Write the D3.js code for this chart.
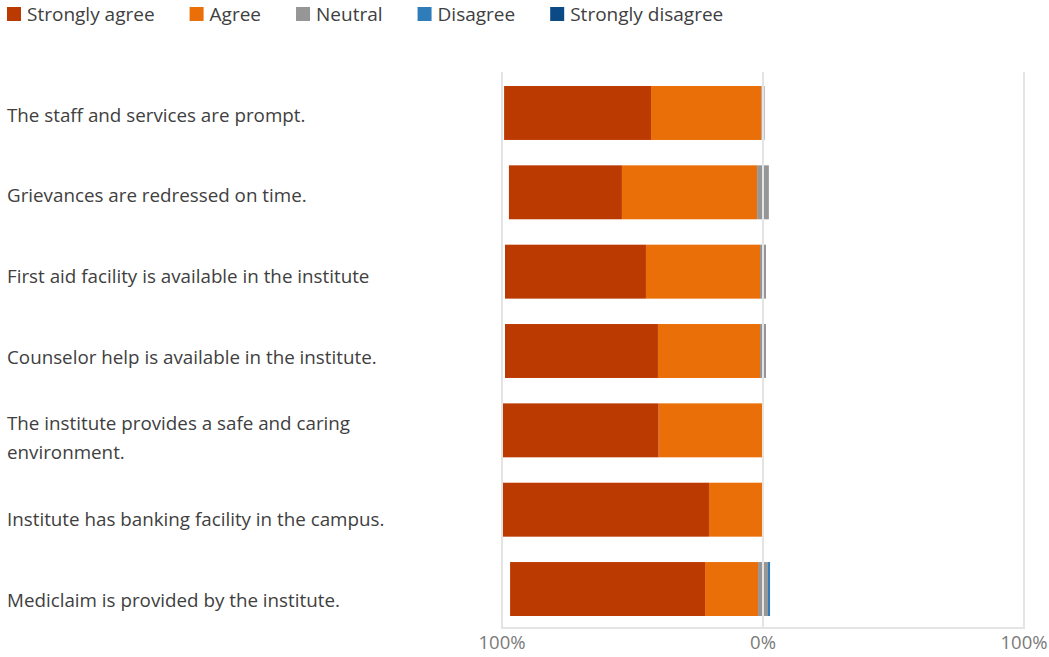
<!DOCTYPE html>
<html>
<head>
<meta charset="utf-8">
<script src="https://cdn.jsdelivr.net/npm/d3@7"></script>
<style>
  body { margin: 0; background: #fff; }
  svg { display: block; font-family: "Open Sans", "Noto Sans", sans-serif; }
</style>
</head>
<body>
<div id="chart"></div>
<script>
var categories = [
  'The staff and services are prompt.',
  'Grievances are redressed on time.',
  'First aid facility is available in the institute',
  'Counselor help is available in the institute.',
  'The institute provides a safe and caring environment.',
  'Institute has banking facility in the campus.',
  'Mediclaim is provided by the institute.'
]

// percent of responses
var stronglyAgree    = [56.3, 43.3, 54.0, 58.6, 60.0, 79.3, 74.7]
var agree            = [42.3, 51.8, 43.7, 39.1, 40.0, 20.7, 20.3]
var neutral          = [1.2, 4.5, 2.3, 2.3, 0, 0, 3.8]
var disagree         = [0, 0, 0, 0, 0, 0, 0.8]
var stronglyDisagree = [0, 0, 0, 0, 0, 0, 0]

var seriesNames = ['Strongly agree', 'Agree', 'Neutral', 'Disagree', 'Strongly disagree']
var seriesColors = ['#bb3a02', '#ea6f08', '#969696', '#2e7dba', '#0b4a84']

var tickValues = [-100, 0, 100]
var tickLabels = ['100%', '0%', '100%']

var width = 1049, height = 657

var svg = d3.select('#chart').append('svg')
  .attr('width', width).attr('height', height)

var x = d3.scaleLinear().domain([-100, 100]).range([502, 1024])
var y = d3.scaleBand().domain(categories).range([73.3, 628.7]).paddingInner(0.32).paddingOuter(0.16)
// category labels sit on a slightly taller band than the bars
var yLabel = d3.scaleBand().domain(categories).range([74.6, 640.4])

// build segments: neutral straddles 0, agree to the left, disagree to the right
var rows = categories.map(function(c, i){
  var n = neutral[i]
  var segs = []
  var left = -n / 2
  segs.push({key: 1, x0: left - agree[i], x1: left})
  segs.push({key: 0, x0: left - agree[i] - stronglyAgree[i], x1: left - agree[i]})
  segs.push({key: 2, x0: -n / 2, x1: n / 2})
  var right = n / 2
  segs.push({key: 3, x0: right, x1: right + disagree[i]})
  segs.push({key: 4, x0: right + disagree[i], x1: right + disagree[i] + stronglyDisagree[i]})
  return {cat: c, segs: segs.filter(function(s){ return s.x1 > s.x0 })}
})

var rowSel = svg.selectAll('g.row').data(rows).enter().append('g')
  .attr('class', 'row')
  .attr('transform', function(d){ return 'translate(0,' + y(d.cat) + ')' })

rowSel.selectAll('rect').data(function(d){ return d.segs }).enter().append('rect')
  .attr('x', function(d){ return x(d.x0) })
  .attr('width', function(d){ return x(d.x1) - x(d.x0) })
  .attr('height', y.bandwidth())
  .attr('fill', function(d){ return seriesColors[d.key] })

// gridlines drawn over the bars
svg.selectAll('line.grid').data(tickValues).enter().append('line')
  .attr('class', 'grid')
  .attr('x1', x).attr('x2', x)
  .attr('y1', 72).attr('y2', 629)
  .attr('stroke', '#e4e4e4').attr('stroke-width', 2)

svg.append('line')
  .attr('x1', x(-100) - 1).attr('x2', x(100) + 1)
  .attr('y1', 628).attr('y2', 628)
  .attr('stroke', '#e4e4e4').attr('stroke-width', 2)

svg.selectAll('text.tick').data(tickValues).enter().append('text')
  .attr('class', 'tick')
  .attr('x', x).attr('y', 649)
  .attr('text-anchor', 'middle')
  .attr('font-size', 18.5)
  .attr('fill', '#7a7a7a')
  .text(function(d, i){ return tickLabels[i] })

// category labels, wrapped at ~370px
var labelSel = svg.selectAll('text.cat').data(categories).enter().append('text')
  .attr('class', 'cat')
  .attr('font-size', 18.8)
  .attr('fill', '#404040')

labelSel.each(function(d){
  var t = d3.select(this)
  var words = d.split(' ')
  var lines = [], line = []
  var tmp = t.append('tspan')
  words.forEach(function(w){
    line.push(w)
    tmp.text(line.join(' '))
    if (tmp.node().getComputedTextLength() > 380 && line.length > 1){
      line.pop()
      lines.push(line.join(' '))
      line = [w]
    }
  })
  lines.push(line.join(' '))
  tmp.remove()
  var cy = yLabel(d) + yLabel.bandwidth() / 2
  var lh = 29
  lines.forEach(function(l, i){
    t.append('tspan')
      .attr('x', 7)
      .attr('y', cy + (i - (lines.length - 1) / 2) * lh)
      .attr('dy', '0.35em')
      .text(l)
  })
})

// legend
var lx = 7
seriesNames.forEach(function(name, i){
  svg.append('rect')
    .attr('x', lx).attr('y', 7).attr('width', 14).attr('height', 14)
    .attr('fill', seriesColors[i])
  var t = svg.append('text')
    .attr('x', lx + 20).attr('y', 14).attr('dy', '0.35em')
    .attr('font-size', 19).attr('fill', '#404040')
    .text(name)
  lx += 20 + t.node().getComputedTextLength() + 35
})
</script>
</body>
</html>
